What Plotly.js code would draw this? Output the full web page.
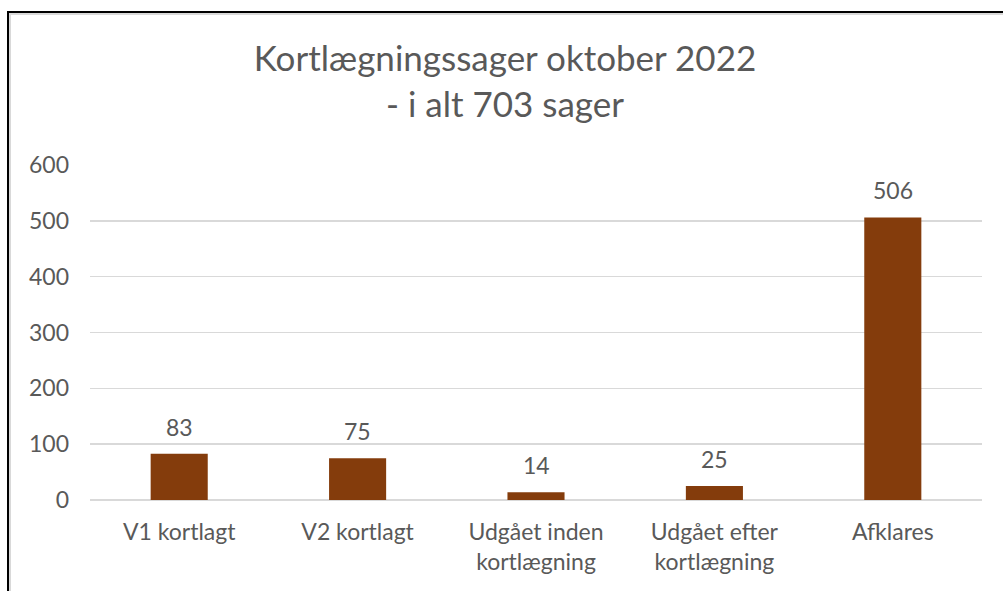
<!DOCTYPE html>
<html>
<head>
<meta charset="utf-8">
<script src="https://cdn.plot.ly/plotly-3.0.1.min.js"></script>
<style>
  html, body { margin: 0; padding: 0; width: 1003px; height: 591px; overflow: hidden; background: #fff; }
  #chart { position: absolute; left: 0; top: 0; width: 1003px; height: 591px; }
  #frame { position: absolute; left: 7px; top: 11px; width: 1100px; height: 700px;
           border: 2px solid #000; box-shadow: inset 0 0 0 2px #d9d9d9; pointer-events: none; }
</style>
</head>
<body>
<div id="chart"></div>
<div id="frame"></div>
<script>
const categories = ["V1 kortlagt", "V2 kortlagt", "Udgået inden<br>kortlægning", "Udgået efter<br>kortlægning", "Afklares"];
const values = [83, 75, 14, 25, 506];
const yTicks = [0, 100, 200, 300, 400, 500, 600];
const titleText = "Kortlægningssager oktober 2022<br>- i alt 703 sager";

const FONT = "Lato, 'Noto Sans', sans-serif";
const GREY = "#595959";

const trace = {
  type: "bar",
  x: categories,
  y: values,
  marker: { color: "#843C0C" },
  hoverinfo: "none"
};

const annotations = categories.map((c, i) => ({
  x: c, y: values[i], xref: "x", yref: "y",
  text: String(values[i]),
  showarrow: false, yanchor: "bottom", yshift: 11,
  font: { family: FONT, size: 23, color: GREY }
}));

const layout = {
  width: 1003, height: 591,
  margin: { l: 90, r: 21, t: 165, b: 91 },
  paper_bgcolor: "#fff", plot_bgcolor: "#fff",
  bargap: 0.68,
  showlegend: false,
  title: {
    text: titleText,
    font: { family: FONT, size: 35, color: GREY },
    xref: "container", x: 505 / 1003, xanchor: "center",
    yref: "container", y: 1 - 71 / 591, yanchor: "top"
  },
  xaxis: {
    type: "category",
    showgrid: false, showline: false, zeroline: false, ticks: "",
    tickfont: { family: FONT, size: 23, color: GREY },
    ticklabelstandoff: 16
  },
  yaxis: {
    range: [0, 600],
    tickvals: yTicks,
    ticktext: yTicks.map(String),
    showgrid: true, gridcolor: "#d9d9d9", gridwidth: 1.5,
    zeroline: true, zerolinecolor: "#d9d9d9", zerolinewidth: 1.5,
    showline: false, ticks: "",
    tickfont: { family: FONT, size: 23, color: GREY },
    ticklabelstandoff: 20
  },
  annotations: annotations
};

Plotly.newPlot("chart", [trace], layout, { staticPlot: true, displayModeBar: false });
</script>
</body>
</html>
